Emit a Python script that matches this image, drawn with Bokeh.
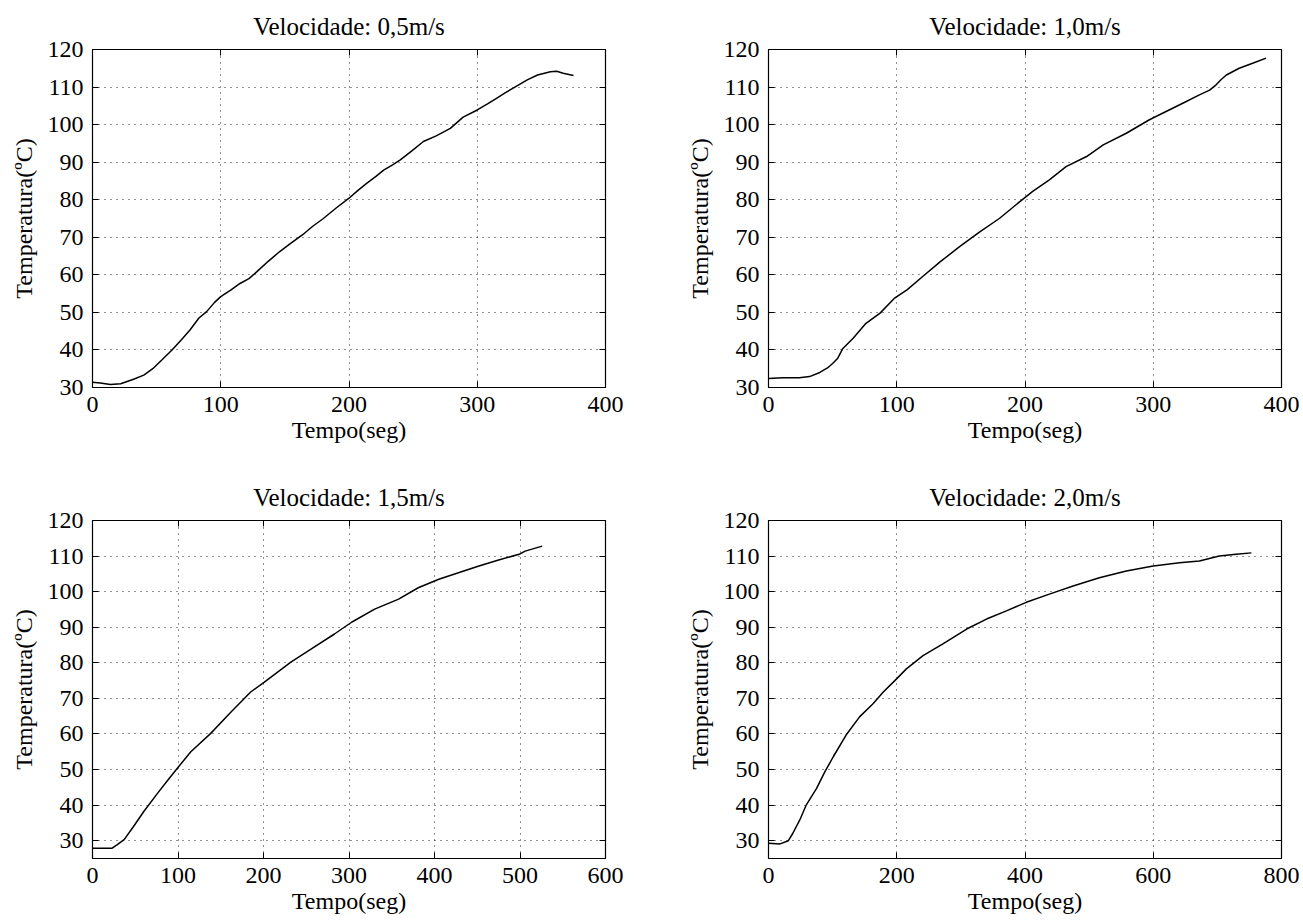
from bokeh.plotting import figure
from bokeh.layouts import column, row
from bokeh.models import LinearAxis, FixedTicker, Range1d
from bokeh.embed import file_html
from bokeh.resources import INLINE

# ---- data ----
t05 = [0, 6, 14, 22, 32, 40, 47, 54, 62, 69, 76, 83, 89, 95, 100, 108, 115, 122, 128, 137, 146, 155, 165, 172, 180, 190,
       200, 207, 214, 221, 227, 234, 240, 249, 258, 268, 279, 289, 300, 308, 315, 322, 328, 339, 347, 357, 362, 367, 375]
T05 = [31.4, 31.2, 30.8, 31.0, 32.2, 33.3, 35.0, 37.3, 40.0, 42.6, 45.3, 48.5, 50.2, 52.6, 54.2, 56.0, 57.7, 59.0, 60.8,
       63.6, 66.2, 68.5, 71.0, 73.0, 75.0, 77.8, 80.4, 82.5, 84.4, 86.2, 87.9, 89.3, 90.6, 93.0, 95.5, 97.0, 99.0, 102.0,
       103.9, 105.5, 107.0, 108.5, 109.7, 111.9, 113.2, 114.1, 114.2, 113.7, 113.1]

t10 = [0, 11, 24, 32, 40, 46, 50, 54, 58, 66, 76, 87, 98, 108, 120, 134, 149, 165, 180, 196, 206, 219, 232, 248, 261, 279,
       297, 310, 323, 336, 344, 349, 353, 357, 367, 378, 388]
T10 = [32.4, 32.6, 32.6, 32.9, 34.0, 35.2, 36.4, 37.8, 40.4, 43.1, 47.1, 49.8, 53.7, 56.0, 59.5, 63.5, 67.5, 71.5, 75.0,
       79.5, 82.2, 85.3, 88.8, 91.5, 94.6, 97.7, 101.3, 103.5, 105.7, 107.9, 109.2, 110.6, 112.0, 113.2, 115.0, 116.4, 117.7]

t15 = [0, 13, 23, 29, 37, 48, 60, 76, 88, 99, 115, 138, 162, 185, 201, 232, 256, 283, 303, 330, 358, 381, 405, 428, 452,
       475, 499, 506, 526]
T15 = [27.9, 27.9, 27.9, 28.9, 30.3, 34.0, 38.2, 43.3, 47.0, 50.3, 55.0, 60.1, 66.2, 71.8, 74.6, 80.2, 83.9, 88.1, 91.4,
       95.1, 97.9, 101.1, 103.5, 105.3, 107.2, 108.9, 110.5, 111.4, 112.8]

t20 = [0, 18, 31, 38, 49, 59, 75, 88, 101, 121, 142, 163, 179, 197, 215, 241, 272, 309, 340, 371, 402, 438, 475, 516, 558,
       600, 641, 672, 703, 729, 753]
T20 = [29.3, 29.1, 30.0, 32.1, 35.9, 40.1, 44.7, 49.4, 53.6, 59.7, 64.8, 68.5, 71.8, 75.0, 78.3, 82.0, 85.3, 89.5, 92.3,
       94.6, 97.0, 99.3, 101.6, 103.9, 105.8, 107.2, 108.1, 108.6, 110.0, 110.5, 110.9]

titles = ["Velocidade: 0,5m/s", "Velocidade: 1,0m/s", "Velocidade: 1,5m/s", "Velocidade: 2,0m/s"]
x_ranges = [(0, 400), (0, 400), (0, 600), (0, 800)]
y_ranges = [(30, 120), (30, 120), (25, 120), (25, 120)]
x_ticks = [[0, 100, 200, 300, 400], [0, 100, 200, 300, 400], [0, 100, 200, 300, 400, 500, 600], [0, 200, 400, 600, 800]]
y_ticks = [30, 40, 50, 60, 70, 80, 90, 100, 110, 120]
xlabel = "Tempo(seg)"
ylabel = "Temperatura(\u00baC)"

FONT = "Liberation Serif"
FS = "24px"
FS_TITLE = "25px"


def make(i, xs, ys, bl, br, bt, bb):
    p = figure(frame_width=513, frame_height=338, output_backend="svg", toolbar_location=None,
               x_range=Range1d(*x_ranges[i]), y_range=Range1d(*y_ranges[i]),
               min_border_left=bl, min_border_right=br, min_border_top=bt,
               min_border_bottom=bb, title=titles[i])
    p.line(xs, ys, line_color="black", line_width=1.5)
    p.title.align = "center"
    p.title.text_font = FONT
    p.title.text_font_size = FS_TITLE
    p.title.text_font_style = "normal"
    p.title.text_color = "black"
    p.title.text_line_height = 1.0
    p.title.standoff = 20
    p.outline_line_color = "black"
    p.outline_line_width = 1.2
    p.outline_line_alpha = 1
    p.background_fill_color = "white"
    p.border_fill_color = "white"
    for ax in (p.xaxis[0], p.yaxis[0]):
        ax.major_tick_in = 6
        ax.major_tick_out = 0
        ax.minor_tick_line_color = None
        ax.major_label_text_font = FONT
        ax.major_label_text_font_size = FS
        ax.major_label_text_color = "black"
        ax.axis_label_text_font = FONT
        ax.axis_label_text_font_size = FS
        ax.axis_label_text_font_style = "normal"
        ax.axis_label_text_color = "black"
        ax.axis_line_color = "black"
        ax.major_tick_line_color = "black"
    p.xaxis[0].ticker = FixedTicker(ticks=x_ticks[i])
    p.yaxis[0].ticker = FixedTicker(ticks=y_ticks)
    p.xaxis[0].axis_label = xlabel
    p.yaxis[0].axis_label = ylabel
    p.xaxis[0].major_label_standoff = 9
    p.yaxis[0].major_label_standoff = 9
    p.xaxis[0].axis_label_standoff = 2
    p.yaxis[0].axis_label_standoff = 8
    # mirrored ticks (top and right)
    top = LinearAxis(ticker=FixedTicker(ticks=x_ticks[i]), major_label_text_font_size="0px",
                     major_tick_in=6, major_tick_out=0, minor_tick_line_color=None,
                     major_label_standoff=0, axis_line_color="black")
    right = LinearAxis(ticker=FixedTicker(ticks=y_ticks), major_label_text_font_size="0px",
                       major_tick_in=6, major_tick_out=0, minor_tick_line_color=None,
                       major_label_standoff=0, axis_line_color="black")
    p.add_layout(top, "above")
    p.add_layout(right, "right")
    for g in (p.xgrid[0], p.ygrid[0]):
        g.grid_line_color = "black"
        g.grid_line_dash = "1 5"
        g.grid_line_width = 1
        g.grid_line_alpha = 0.85
    p.xgrid[0].ticker = FixedTicker(ticks=x_ticks[i])
    p.ygrid[0].ticker = FixedTicker(ticks=y_ticks)
    return p


p1 = make(0, t05, T05, 92, 78, 48, 84)
p2 = make(1, t10, T10, 84, 20, 48, 84)
p3 = make(2, t15, T15, 92, 78, 48, 62)
p4 = make(3, t20, T20, 84, 20, 48, 62)

layout = column(row(p1, p2), row(p3, p4))
open("out.html", "w").write(file_html(layout, INLINE))
